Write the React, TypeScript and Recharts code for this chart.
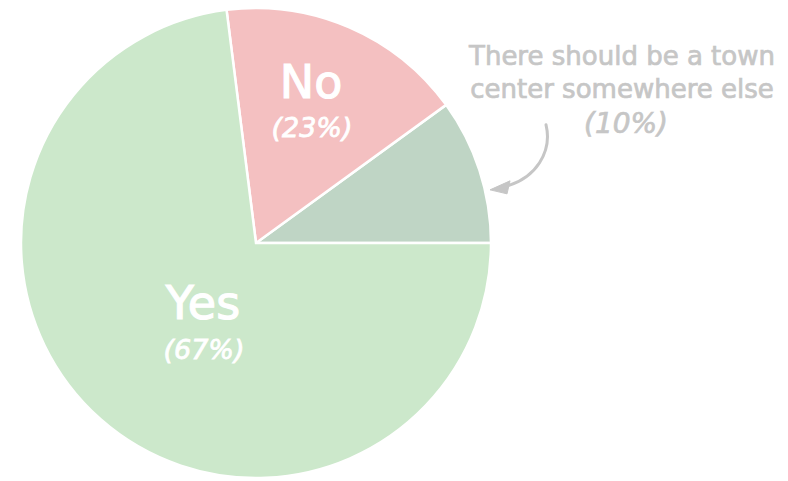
import React from 'react';
import { PieChart, Pie, Cell } from 'recharts';

// order follows the drawing, counter-clockwise from 3 o'clock
const categories = ['There should be a town center somewhere else', 'No', 'Yes'];
const sliceShares = [10, 17, 73];
const shareLabels = ['(10%)', '(23%)', '(67%)'];
const sliceColors = ['#bfd5c5', '#f4c0c1', '#cce8cb'];

const data = categories.map((name, i) => ({ name, value: sliceShares[i] }));

const FONT = '"DejaVu Sans", Lato, sans-serif';
const GREY = '#c6c6c6';

const renderLabel = (props: any) => {
  const { cx, cy, outerRadius, index } = props;
  if (index === 2) {
    return (
      <g fill="#fff" stroke="#fff" fontFamily={FONT} textAnchor="middle">
        <text x={cx - 53} y={cy + 76} fontSize={46} strokeWidth={1.2}>Yes</text>
        <text x={cx - 52} y={cy + 116} fontSize={27} strokeWidth={0.8} fontStyle="italic">{shareLabels[2]}</text>
      </g>
    );
  }
  if (index === 1) {
    return (
      <g fill="#fff" stroke="#fff" fontFamily={FONT} textAnchor="middle">
        <text x={cx + 55} y={cy - 145} fontSize={46} strokeWidth={1.2}>No</text>
        <text x={cx + 56} y={cy - 106} fontSize={27} strokeWidth={0.8} fontStyle="italic">{shareLabels[1]}</text>
      </g>
    );
  }
  // annotation for the small slice, with a curved arrow pointing at its edge
  const tipA = (12.8 * Math.PI) / 180;
  const tx = cx + (outerRadius + 5) * Math.cos(tipA);
  const ty = cy - (outerRadius + 5) * Math.sin(tipA);
  const lx = cx + 366;
  return (
    <g>
      <g fill={GREY} stroke={GREY} strokeWidth={0.7} fontFamily={FONT} textAnchor="middle">
        <text x={lx} y={cy - 178} fontSize={26}>There should be a town</text>
        <text x={lx} y={cy - 145} fontSize={26}>center somewhere else</text>
        <text x={lx + 4} y={cy - 110} fontSize={28} fontStyle="italic">{shareLabels[0]}</text>
      </g>
      <path
        d={`M ${tx + 56} ${ty - 65} C ${tx + 62} ${ty - 40}, ${tx + 48} ${ty - 10}, ${tx + 10} ${ty - 2}`}
        fill="none" stroke={GREY} strokeWidth={3} strokeLinecap="round"
      />
      <path d={`M ${tx} ${ty} L ${tx + 20} ${ty - 9} L ${tx + 17} ${ty + 4} Z`} fill={GREY} stroke={GREY} strokeWidth={1} strokeLinejoin="round" />
    </g>
  );
};

const App: React.FC = () => {
  return (
    <div style={{ position: 'absolute', left: 0, top: 0, width: 788, height: 481, background: '#fff' }}>
      <PieChart width={788} height={481} margin={{ top: 0, right: 0, bottom: 0, left: 0 }}>
        <Pie
          data={data} dataKey="value" nameKey="name"
          cx={256} cy={243} outerRadius={235}
          startAngle={0} endAngle={360}
          stroke="#fff" strokeWidth={2.5}
          label={renderLabel} labelLine={false}
          isAnimationActive={false}
        >
          {data.map((d, i) => (
            <Cell key={d.name} fill={sliceColors[i]} />
          ))}
        </Pie>
      </PieChart>
    </div>
  );
};

export default App;
